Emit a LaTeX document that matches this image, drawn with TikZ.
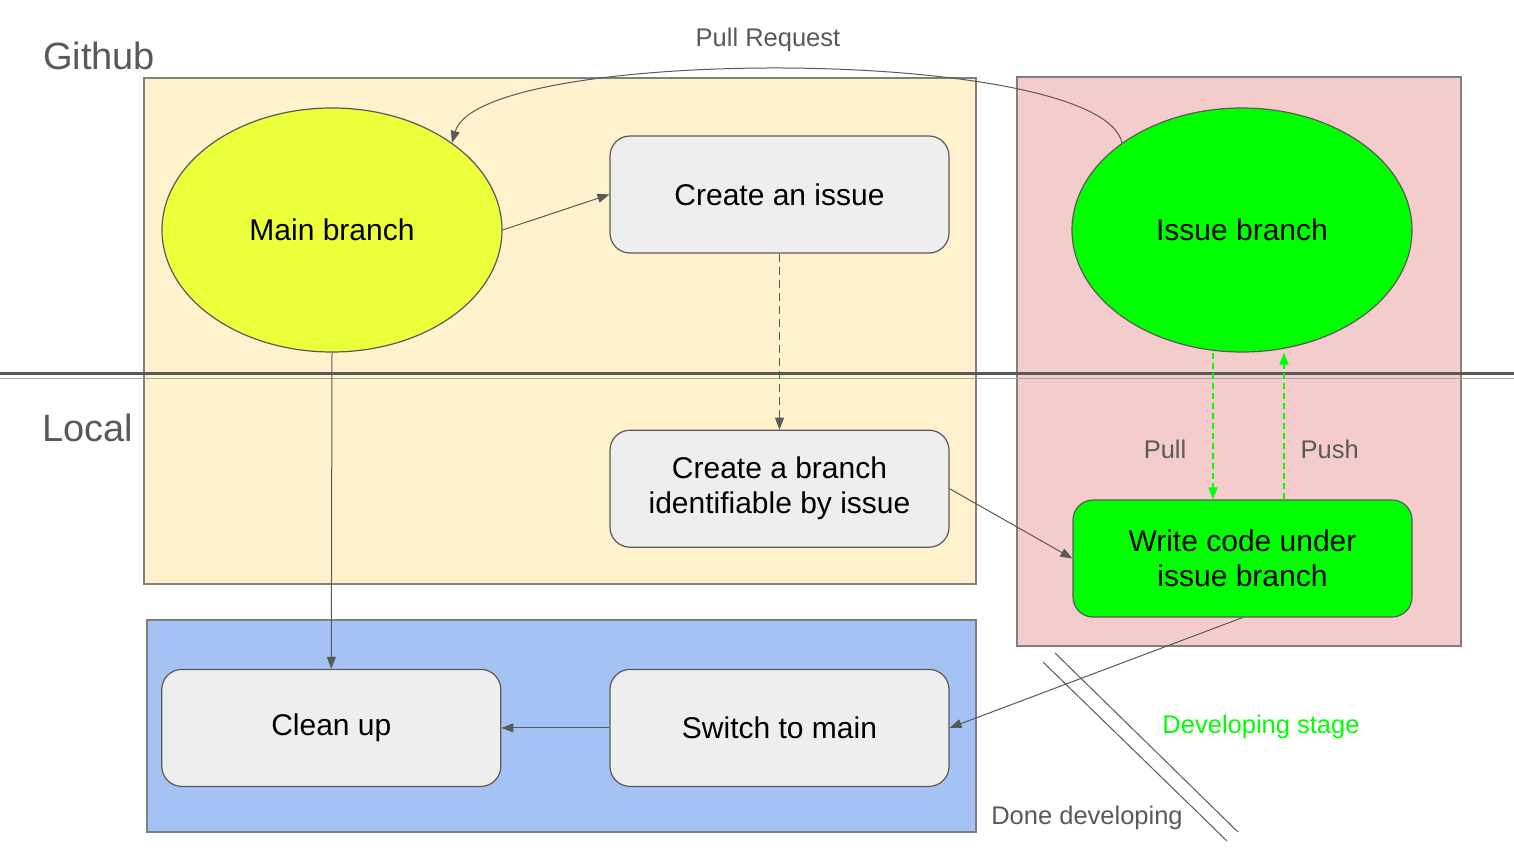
\documentclass[tikz,border=0pt]{standalone}
\usepackage{fontspec}
\setmainfont{Liberation Sans}
\usetikzlibrary{arrows.meta,positioning,shapes.geometric}

\definecolor{ink}{HTML}{595959}
\definecolor{frame}{HTML}{7F7F7F}
\definecolor{gitfill}{HTML}{FFF2CC}
\definecolor{devfill}{HTML}{F4CCCC}
\definecolor{donefill}{HTML}{A4C2F4}
\definecolor{mainfill}{HTML}{EBFF3B}
\definecolor{devgreen}{HTML}{00FF00}
\definecolor{boxfill}{HTML}{EEEEEE}

\begin{document}
\begin{tikzpicture}[
  x=1pt, y=-1pt,
  arr/.style={-{Triangle[length=12pt,width=9pt]}, line width=1pt, color=ink},
  garr/.style={-{Triangle[length=12pt,width=9pt]}, line width=1.4pt, color=devgreen, dash pattern=on 6pt off 4pt},
  zone/.style={draw=frame, line width=1.2pt},
  blk/.style={draw=ink, rounded corners=20pt, fill=boxfill, line width=1.2pt, minimum width=339pt,
    minimum height=117pt, align=center, inner sep=0pt, font=\fontsize{30}{35}\selectfont},
  brn/.style={ellipse, draw=ink, line width=1.2pt, minimum width=340pt, minimum height=244pt,
    inner sep=0pt, font=\fontsize{30}{35}\selectfont},
  lbl/.style={text=ink, inner sep=0pt, font=\fontsize{25.5}{30}\selectfont},
  ttl/.style={text=ink, inner sep=0pt, font=\fontsize{38}{44}\selectfont}
]
  \useasboundingbox (0,0) rectangle (1514,866);

  % stage areas
  \draw[zone, fill=gitfill] (144,78) rectangle (976,584);
  \draw[zone, fill=devfill] (1017,77) rectangle (1461,646);
  \draw[zone, fill=donefill] (147,620) rectangle (976,832);

  % github / local divider
  \draw[ink, line width=3.6pt] (0,373.5) -- (1514,373.5);
  \draw[gray!70, line width=1pt] (0,378.5) -- (1514,378.5);

  \node[ttl] (github) at (99,56) {Github};
  \node[ttl] (local) at (88,428) {Local};

  \node[brn, fill=mainfill] (main) at (332,230) {Main branch};
  \node[brn, fill=devgreen] (issuebr) at (1242,230) {Issue branch};

  \node[blk] (newissue) at (779.5,194.5) {Create an issue};
  \node[blk, below=176pt of newissue] (newbranch) {Create a branch\\identifiable by issue};
  \node[blk, below=121pt of newbranch] (switch) {Switch to main};
  \node[blk, left=108pt of switch] (cleanup) {Clean up};
  \node[blk, fill=devgreen] (code) at (1242.5,558.5) {Write code under\\issue branch};

  \draw[arr] (main.east) -- (newissue.west);
  \draw[arr, dash pattern=on 8pt off 5pt] (newissue.south) -- (newbranch.north);
  \draw[arr] (newbranch.east) -- (code.west);
  \draw[garr] (issuebr.south -| 1213,0) -- node[lbl, pos=0.66, left=26pt] {Pull} (code.north -| 1213,0);
  \draw[garr] (code.north -| 1284,0) -- node[lbl, pos=0.34, right=16pt] {Push} (issuebr.south -| 1284,0);
  \draw[arr] (code.south) -- (switch.east);
  \draw[arr] (switch.west) -- (cleanup.east);
  \draw[arr] (main.south) -- (cleanup.north);
  \draw[arr] (issuebr.144) .. controls (1100,45) and (480,45) .. (main.36);
  \node[lbl] (pr) at (768,40) {Pull Request};

  % end of developing stage
  \draw[ink, line width=1pt] (1043,662) -- (1227,841);
  \draw[ink, line width=1pt] (1055,653) -- (1238,832);
  \node[lbl, text=devgreen] (devstage) at (1261,727) {Developing stage};
  \node[lbl] (done) at (1087,818) {Done developing};
\end{tikzpicture}
\end{document}
